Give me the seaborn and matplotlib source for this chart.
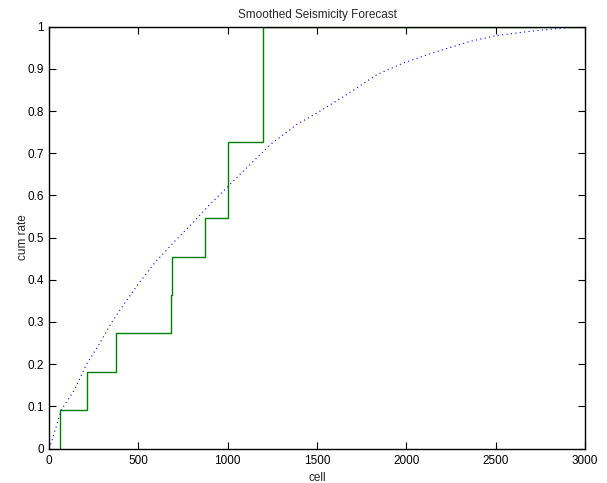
import seaborn as sns
import matplotlib.pyplot as plt
import pandas as pd

# observed events: cell where cumulative fraction steps up
step_cells = [63, 63, 211, 373, 683, 687, 873, 1002, 1198, 3000]
step_rates = [0.0, 0.0909, 0.1818, 0.2727, 0.3636, 0.4545, 0.5455, 0.7273, 1.0, 1.0]

# smoothed forecast cumulative rate
fc_cells = [0, 13, 69, 144, 209, 274, 349, 424, 498, 591, 703, 796, 890,
            1022, 1125, 1237, 1386, 1498, 1666, 1834, 1983, 2170, 2356,
            2505, 2692, 2878, 2971]
fc_rates = [0.0, 0.0135, 0.092, 0.140, 0.199, 0.242, 0.298, 0.345, 0.389,
            0.440, 0.491, 0.531, 0.574, 0.630, 0.673, 0.720, 0.768, 0.795,
            0.839, 0.886, 0.914, 0.941, 0.965, 0.979, 0.989, 0.997, 1.0]

sns.set_style('ticks')
plt.rcParams['font.family'] = ['Liberation Sans', 'DejaVu Sans']

steps = pd.DataFrame({'cell': step_cells, 'rate': step_rates})
fc = pd.DataFrame({'cell': fc_cells, 'rate': fc_rates})

fig = plt.figure(figsize=(6.07, 4.83), dpi=100)
ax = fig.add_axes([0.0807, 0.0714, 0.883, 0.8733])

sns.lineplot(data=steps, x='cell', y='rate', estimator=None, sort=False,
             drawstyle='steps-post', color=(0, 0.5, 0), linewidth=1.0, ax=ax)
sns.lineplot(data=fc, x='cell', y='rate', estimator=None, sort=False,
             color='blue', linestyle=(0, (1, 3)), linewidth=0.8, ax=ax)

ax.set_xlim(0, 3000)
ax.set_ylim(0, 1)
ax.set_xticks(range(0, 3001, 500))
ax.set_yticks([i / 10 for i in range(11)])
ax.set_yticklabels(['0', '0.1', '0.2', '0.3', '0.4', '0.5', '0.6', '0.7', '0.8', '0.9', '1'])
ax.tick_params(direction='in', length=5, width=0.8, top=True, right=True,
               labelsize=8.5, colors='black')
ax.tick_params(axis='x', pad=5)
ax.tick_params(axis='y', pad=3.5)
for s in ax.spines.values():
    s.set_visible(True)
    s.set_linewidth(1.0)
    s.set_color('black')

ax.set_title('Smoothed Seismicity Forecast', fontsize=8.5, pad=6)
ax.set_xlabel('cell', fontsize=8.5, labelpad=3)
ax.set_ylabel('cum rate', fontsize=8.5, labelpad=-1)

fig.savefig('out.png', dpi=100)
